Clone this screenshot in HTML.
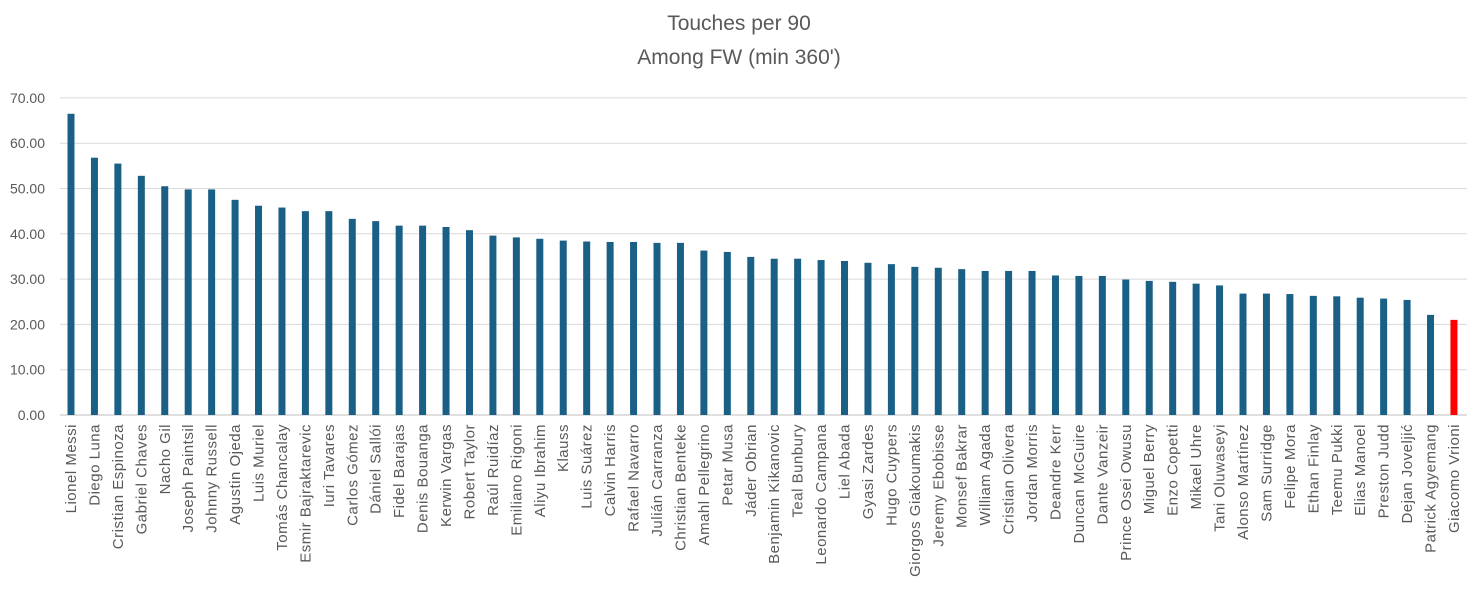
<!DOCTYPE html>
<html><head><meta charset="utf-8"><style>
body{margin:0;background:#fff;font-family:"Liberation Sans",sans-serif;}
</style></head><body>
<svg width="1479" height="584" xmlns="http://www.w3.org/2000/svg" font-family="Liberation Sans, sans-serif">
<rect width="1479" height="584" fill="#fff"/>
<text x="739" y="30" text-anchor="middle" font-size="21" fill="#595959">Touches per 90</text>
<text x="739" y="64" text-anchor="middle" font-size="21" fill="#595959">Among FW (min 360')</text>
<g id="g"></g>
</svg>
<script>
const names=["Lionel Messi","Diego Luna","Cristian Espinoza","Gabriel Chaves","Nacho Gil","Joseph Paintsil","Johnny Russell","Agustin Ojeda","Luis Muriel","Tomás Chancalay","Esmir Bajraktarevic","Iuri Tavares","Carlos Gómez","Dániel Sallói","Fidel Barajas","Denis Bouanga","Kerwin Vargas","Robert Taylor","Raúl Ruidíaz","Emiliano Rigoni","Aliyu Ibrahim","Klauss","Luis Suárez","Calvin Harris","Rafael Navarro","Julián Carranza","Christian Benteke","Amahl Pellegrino","Petar Musa","Jáder Obrian","Benjamin Kikanovic","Teal Bunbury","Leonardo Campana","Liel Abada","Gyasi Zardes","Hugo Cuypers","Giorgos Giakoumakis","Jeremy Ebobisse","Monsef Bakrar","William Agada","Cristian Olivera","Jordan Morris","Deandre Kerr","Duncan McGuire","Dante Vanzeir","Prince Osei Owusu","Miguel Berry","Enzo Copetti","Mikael Uhre","Tani Oluwaseyi","Alonso Martínez","Sam Surridge","Felipe Mora","Ethan Finlay","Teemu Pukki","Elias Manoel","Preston Judd","Dejan Joveljić","Patrick Agyemang","Giacomo Vrioni"];
const v=[66.5,56.8,55.5,52.8,50.5,49.8,49.8,47.5,46.2,45.8,45.0,45.0,43.3,42.8,41.8,41.8,41.5,40.8,39.6,39.2,38.9,38.5,38.3,38.2,38.2,38.0,38.0,36.3,36.0,34.9,34.5,34.5,34.2,34.0,33.6,33.3,32.7,32.5,32.2,31.8,31.8,31.8,30.8,30.7,30.7,29.9,29.6,29.4,29.0,28.6,26.8,26.8,26.7,26.3,26.2,25.9,25.7,25.4,22.1,21.0];
let s="";const y0=415,k=4.53;
for(let i=0;i<=7;i++){const y=y0-i*10*k;s+=`<line x1="60" x2="1467" y1="${y}" y2="${y}" stroke="${i?'#d9d9d9':'#bfbfbf'}" stroke-width="1"/><text x="45" y="${y+5}" text-anchor="end" font-size="14" fill="#595959">${(i*10).toFixed(2)}</text>`;}
for(let i=0;i<60;i++){const c=71+i*23.44,h=v[i]*k;s+=`<rect x="${c-3.5}" y="${y0-h}" width="7" height="${h}" fill="${i==59?'#ff0000':'#1a5f86'}"/><text transform="translate(${c+5},424) rotate(-90)" text-anchor="end" font-size="15" letter-spacing="0.5" fill="#595959">${names[i]}</text>`;}
document.getElementById("g").innerHTML=s;
</script>
</body></html>
